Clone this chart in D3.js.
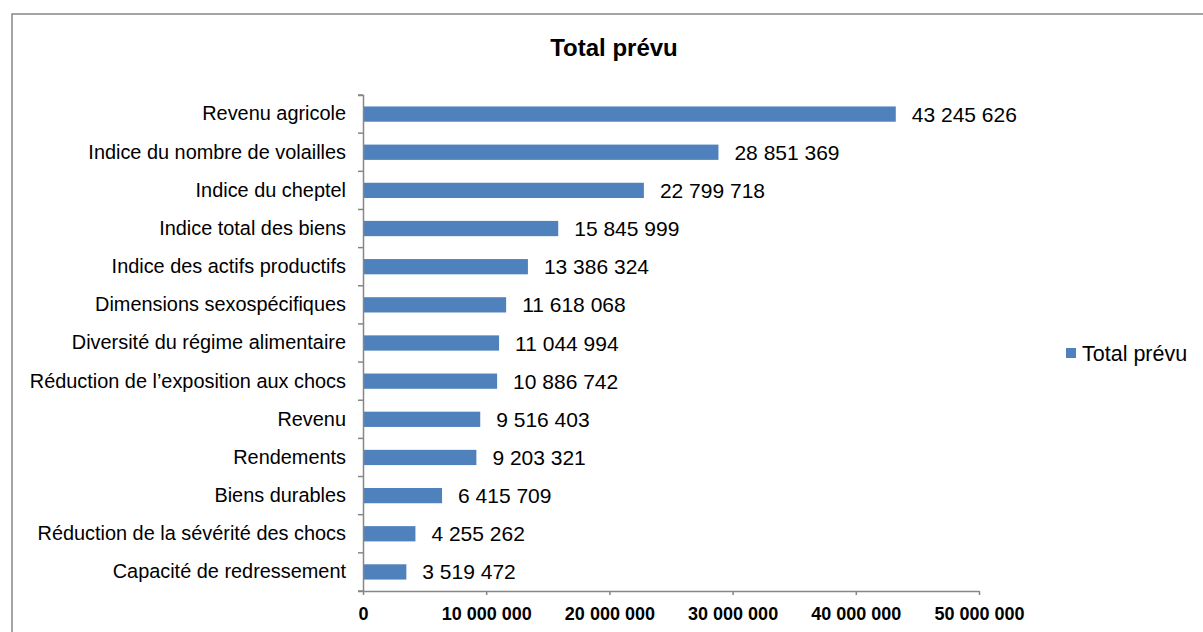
<!DOCTYPE html>
<html>
<head>
<meta charset="utf-8">
<script src="https://cdn.jsdelivr.net/npm/d3@7"></script>
<style>
  body { margin: 0; background: #fff; }
  svg { display: block; font-family: "Liberation Sans", Arial, sans-serif; }
</style>
</head>
<body>
<div id="chart"></div>
<script>
// chart data, top to bottom
const categories = [
  "Revenu agricole",
  "Indice du nombre de volailles",
  "Indice du cheptel",
  "Indice total des biens",
  "Indice des actifs productifs",
  "Dimensions sexospécifiques",
  "Diversité du régime alimentaire",
  "Réduction de l’exposition aux chocs",
  "Revenu",
  "Rendements",
  "Biens durables",
  "Réduction de la sévérité des chocs",
  "Capacité de redressement"
];
const values = [43245626, 28851369, 22799718, 15845999, 13386324, 11618068,
  11044994, 10886742, 9516403, 9203321, 6415709, 4255262, 3519472];
const tickValues = [0, 10000000, 20000000, 30000000, 40000000, 50000000];
const seriesName = "Total prévu";
const chartTitle = "Total prévu";

const WIDTH = 1203, HEIGHT = 632;
const MARGINS = {left: 363, right: 224, top: 95, bottom: 41};
const BLUE = "#4F81BD";
const GRAY = "#868686";

// french number format: 43 245 626
const fr = d3.formatLocale({decimal: ",", thousands: " ", grouping: [3], currency: ["", ""]});
const fmt = fr.format(",");

const svg = d3.select("#chart").append("svg")
  .attr("width", WIDTH)
  .attr("height", HEIGHT);

// outer frame
svg.append("rect")
  .attr("x", 12).attr("y", 14)
  .attr("width", 1200).attr("height", 640)
  .attr("fill", "none")
  .attr("stroke", GRAY)
  .attr("stroke-width", 1.5);

svg.append("text")
  .attr("x", 614).attr("y", 56)
  .attr("text-anchor", "middle")
  .attr("font-size", "24px")
  .attr("font-weight", "bold")
  .text(chartTitle);

const X_SCALE = d3.scaleLinear()
  .domain([0, 50000000])
  .range([MARGINS.left, WIDTH - MARGINS.right]);

const Y_SCALE = d3.scaleBand()
  .domain(categories)
  .range([MARGINS.top, HEIGHT - MARGINS.bottom])
  .paddingInner(0.6)
  .paddingOuter(0.3);

// bars
svg.selectAll(".bar")
  .data(values)
  .enter()
  .append("rect")
    .attr("class", "bar")
    .attr("x", X_SCALE(0))
    .attr("y", (d, i) => Y_SCALE(categories[i]))
    .attr("width", (d) => X_SCALE(d) - X_SCALE(0))
    .attr("height", Y_SCALE.bandwidth())
    .attr("fill", BLUE);

// value labels
svg.selectAll(".val")
  .data(values)
  .enter()
  .append("text")
    .attr("class", "val")
    .attr("x", (d) => X_SCALE(d) + 16)
    .attr("y", (d, i) => Y_SCALE(categories[i]) + Y_SCALE.bandwidth() / 2)
    .attr("dy", "0.36em")
    .attr("font-size", "21px")
    .attr("fill", "#000")
    .text((d) => fmt(d));

// y axis
const yAxis = svg.append("g")
  .attr("transform", "translate(" + MARGINS.left + ",0)")
  .call(d3.axisLeft(Y_SCALE.copy().paddingInner(0).paddingOuter(0)).tickSize(5).tickPadding(12));
yAxis.selectAll(".tick line").remove();
yAxis.select(".domain").attr("stroke", GRAY).attr("stroke-width", 1.5);
yAxis.selectAll(".tick text")
  .attr("font-size", "19.9px")
  .attr("fill", "#000")
  .attr("font-family", "Liberation Sans, Arial, sans-serif");

// y tick marks on band boundaries
const bandEdges = d3.range(categories.length + 1)
  .map((i) => MARGINS.top + i * (HEIGHT - MARGINS.bottom - MARGINS.top) / categories.length);
svg.append("g").selectAll("line")
  .data(bandEdges)
  .enter()
  .append("line")
    .attr("x1", MARGINS.left - 5).attr("x2", MARGINS.left)
    .attr("y1", (d) => d).attr("y2", (d) => d)
    .attr("stroke", GRAY).attr("stroke-width", 1.5);

// x axis
const xAxis = svg.append("g")
  .attr("transform", "translate(0," + (HEIGHT - MARGINS.bottom) + ")")
  .call(d3.axisBottom(X_SCALE).tickValues(tickValues).tickSize(4).tickSizeOuter(0).tickPadding(12).tickFormat(fmt));
xAxis.select(".domain").attr("stroke", GRAY).attr("stroke-width", 1.5);
xAxis.selectAll(".tick line").attr("stroke", GRAY).attr("stroke-width", 1.5);
xAxis.selectAll(".tick text")
  .attr("font-size", "18px")
  .attr("font-weight", "bold")
  .attr("fill", "#000")
  .attr("font-family", "Liberation Sans, Arial, sans-serif");

// legend
const legend = svg.append("g").attr("transform", "translate(1066,348)");
legend.append("rect")
  .attr("width", 10).attr("height", 10)
  .attr("fill", BLUE);
legend.append("text")
  .attr("x", 16).attr("y", 5)
  .attr("dy", "0.36em")
  .attr("font-size", "21.5px")
  .text(seriesName);
</script>
</body>
</html>
